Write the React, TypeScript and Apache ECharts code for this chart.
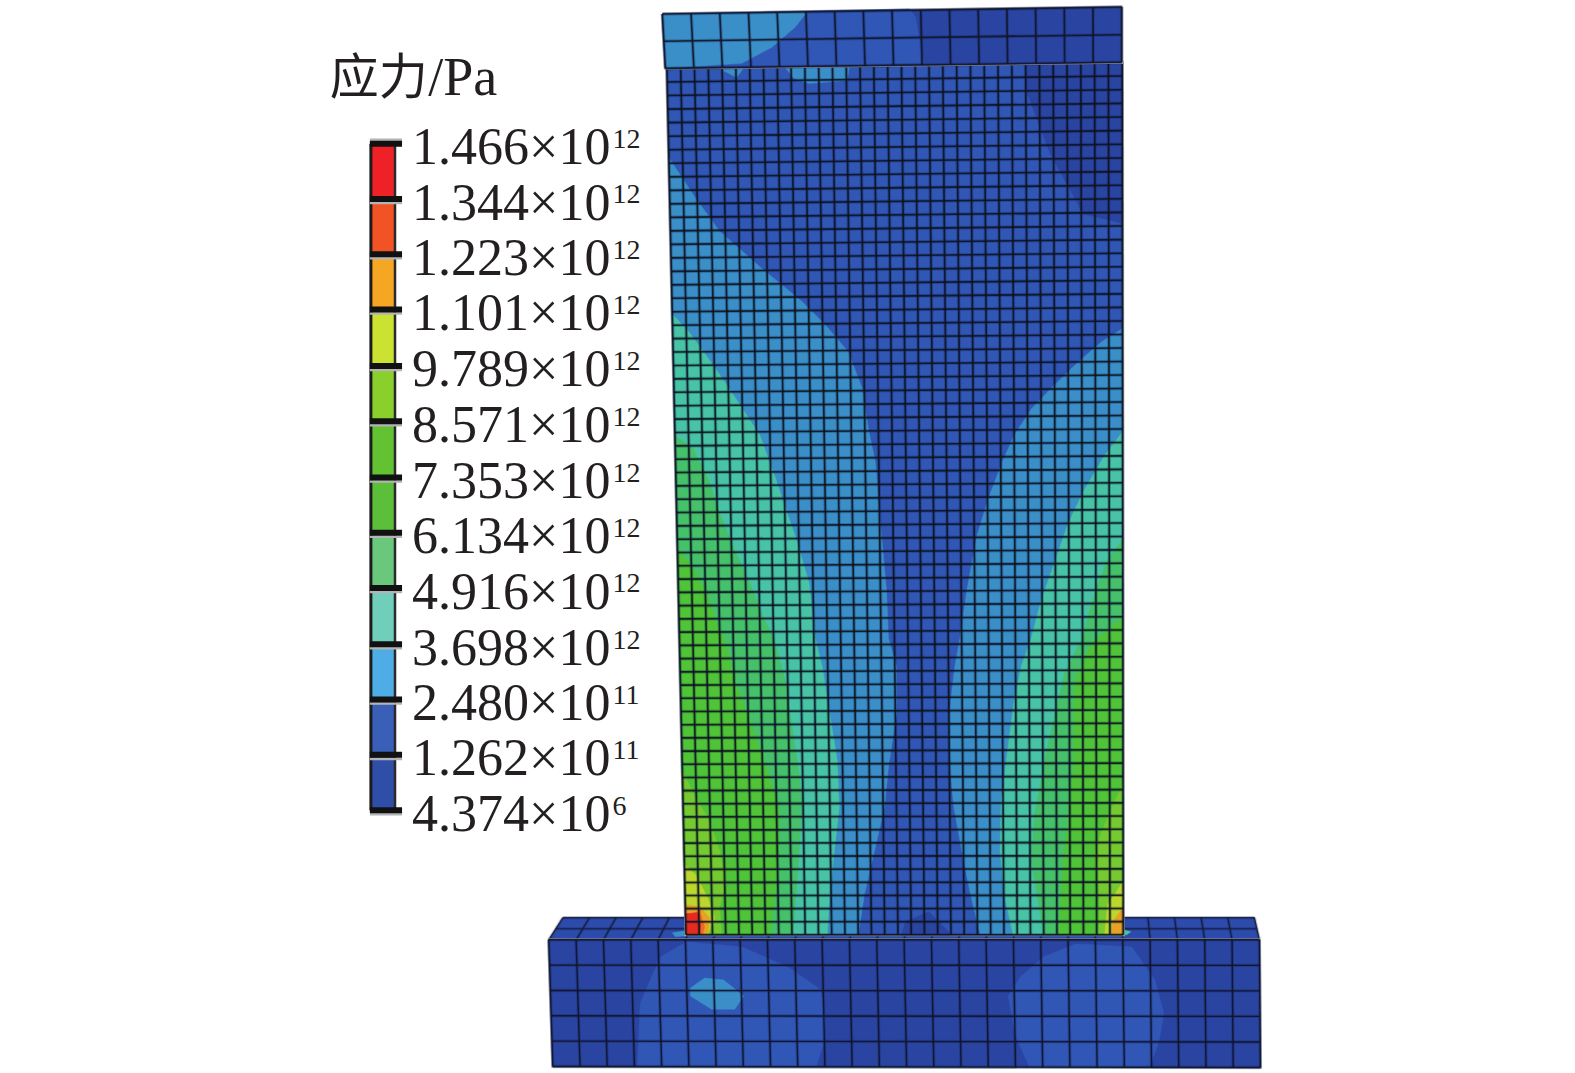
import React, { useEffect, useRef } from "react";
import * as echarts from "echarts";

// ---- legend ----
const legendMantissa = ["1.466×10","1.344×10","1.223×10","1.101×10","9.789×10","8.571×10","7.353×10","6.134×10","4.916×10","3.698×10","2.480×10","1.262×10","4.374×10"];
const legendExponent = ["12","12","12","12","12","12","12","12","12","12","11","11","6"];
const legendTicks = [143,198,253,308,364,419,475,530,585,641,696,751,806];
const legendColors = ["#ee2226","#f15324","#f5a623","#cbe233","#89d02c","#62c232","#5cbf3a","#6ac87c","#6fcfbb","#4dade4","#3a5fb8","#2f4ea8"];
const titleCjk = "应力";
const titleUnit = "/Pa";

// ---- contour colours in the model ----
const DARK = "#2a44a2", MID = "#3056b6", BLUE = "#3b8fc8", TEAL = "#47c4a6", GTEAL = "#45c169", GREEN = "#4fc437", LIME = "#74ca2e", YELLOW = "#bcd62b", ORANGE = "#e9a024", ORED = "#ee6a20", RED = "#e62a20";

type P = number[];
// top block
const blockCorners: P[] = [[659,14],[1116,7],[662,68],[1116,62]];
const blockMid: P[] = [[659,14],[905,9],[911,17],[919,63],[662,68]];
const blockBlue: P[] = [[659,14],[803,12],[791,27],[768,47],[738,63],[662,68]];
// wall
const wallCorners: P[] = [[663.5,68],[1116.5,62],[682.5,930],[1117.5,930]];
const wallDarkTop: P[] = [[1020,64],[1116.5,62],[1116.5,222],[1078,213],[1045,153],[1020,87]];
const wallDarkBottom: P[] = [[897,930],[901,917],[924,907],[940,923],[947,930]];
const wallBlueTopA: P[] = [[715,68],[733,77],[741,66]];
const wallBlueTopB: P[] = [[781,67],[845,66],[843,80],[805,83],[790,78]];
const blueLeft: P[] = [[665.5,157],[692,197],[716,230],[758,267],[798,300],[821,323],[844,350],[858,387],[864,427],[871,460],[875,510],[882,587],[884,635],[892,663],[892,710],[884,763],[880,803],[870,847],[860,890],[854,930],[682.5,930]];
const blueRight: P[] = [[1116.5,327],[1096,340],[1073,360],[1049,383],[1026,407],[1009,433],[997,460],[983,497],[972,533],[962,587],[955,635],[950,663],[944,713],[945,763],[949,803],[957,847],[965,887],[975,930],[1117.5,930]];
const tealLeft: P[] = [[669,313],[683,327],[700,350],[719,377],[739,407],[756,433],[772,477],[782,507],[791,533],[805,580],[811,635],[818,663],[825,707],[833,757],[835,803],[830,847],[825,897],[823,930],[682.5,930]];
const tealRight: P[] = [[1116.5,430],[1099,453],[1079,487],[1063,520],[1049,560],[1036,597],[1026,635],[1016,663],[1009,697],[1003,743],[996,797],[995,847],[999,890],[1008,930],[1117.5,930]];
const gtealLeft: P[] = [[671.6,433],[690,447],[706,480],[716,510],[729,543],[746,580],[759,613],[770,635],[782,680],[789,730],[795,770],[798,797],[795,847],[792,890],[789,930],[682.5,930]];
const gtealRight: P[] = [[1116.8,537],[1102,557],[1089,590],[1076,637],[1059,670],[1049,713],[1038,763],[1029,813],[1026,857],[1033,897],[1038,930],[1117.5,930]];
const greenLeft: P[] = [[674,547],[686,560],[703,590],[713,620],[722,640],[732,680],[746,717],[762,763],[775,803],[775,847],[772,883],[766,930],[682.5,930]];
const greenRight: P[] = [[1117,615],[1086,640],[1069,680],[1068,763],[1059,847],[1053,930],[1117.5,930]];
const limeLeft: P[] = [[678.8,767],[692,793],[706,817],[716,847],[722,877],[716,903],[718,930],[682.5,930]];
const limeRight: P[] = [[1117.2,780],[1102,813],[1089,847],[1094,890],[1093,930],[1117.5,930]];
const yellowLeft: P[] = [[680.8,860],[692,870],[704,893],[711,913],[704,930],[682.5,930]];
const yellowRight: P[] = [[1117.4,877],[1102,900],[1099,930],[1117.5,930]];
const orangeLeft: P[] = [[681.7,900],[696,902],[706,913],[704,930],[682.5,930]];
const orangeRight: P[] = [[1117.4,903],[1107,917],[1106,930],[1117.5,930]];
const oredLeft: P[] = [[682,912],[696,906],[701,922],[699,930],[682.5,930]];
const redLeft: P[] = [[682,909],[694,908],[697,920],[696,930],[682.5,930]];
// base
const baseTopCorners: P[] = [[560,913],[1248,913],[546,935],[1253,935]];
const baseFrontCorners: P[] = [[546,935],[1253,935],[550,1061],[1254,1062]];
const baseMidLeft: P[] = [[634,1061],[637,998],[657,952],[683,937],[738,942],[784,962],[817,985],[821,1014],[819,1040],[812,1061]];
const baseMidRight: P[] = [[1024,1061],[1010,1030],[1003,991],[1015,972],[1038,952],[1070,939],[1126,942],[1149,975],[1158,1008],[1153,1037],[1144,1061]];
const baseBlob: P[] = [[687,983],[701,973],[720,975],[740,991],[731,1004],[708,1004],[687,991]];
const baseTopPatchL: P[] = [[669,928],[682,926],[682,931],[672,932]];
const baseTopPatchR: P[] = [[1118,925],[1125,927],[1121,930],[1118,930]];

const quad = (c: P[]) => [c[0], c[1], c[3], c[2]];

type Shape = { kind: "poly"; pts: P[]; fill: string } | { kind: "line"; pts: P[]; stroke: string; w: number } | { kind: "text"; at: P; text: string; size: number };
const shapes: Shape[] = [];
const poly = (pts: P[], fill: string) => shapes.push({ kind: "poly", pts, fill });
const line = (pts: P[], stroke: string, w: number) => shapes.push({ kind: "line", pts, stroke, w });

const mix = (a: P, b: P, t: number): P => [a[0] + (b[0] - a[0]) * t, a[1] + (b[1] - a[1]) * t];
function mesh(c: P[], cols: number, rows: number, stroke: string, w: number, warp = 0) {
  const f = (t: number) => (1 + warp) * t - warp * t * t;
  const both = (pts: P[]) => { line(pts, "rgba(20,30,50,0.28)", w + 2); line(pts, stroke, w); };
  for (let j = 0; j <= cols; j++) { const t = j / cols; both([mix(c[0], c[1], t), mix(c[2], c[3], t)]); }
  for (let i = 0; i <= rows; i++) { const t = f(i / rows); both([mix(c[0], c[2], t), mix(c[1], c[3], t)]); }
}
const halo = (c: P[], w = 3) => line([...quad(c), c[0]], "#a9adb4", w);

// base top face
poly(quad(baseTopCorners), "#2c4bac");
poly(baseTopPatchL, BLUE);
poly(baseTopPatchR, TEAL);
mesh(baseTopCorners, 26, 2, "rgba(18,26,60,0.85)", 1.2);
// base front face
halo(baseFrontCorners);
poly(quad(baseFrontCorners), DARK);
poly(baseMidLeft, MID);
poly(baseMidRight, MID);
poly(baseBlob, BLUE);
mesh(baseFrontCorners, 26, 5, "rgba(14,20,50,0.92)", 1.4);
// wall
halo(wallCorners);
poly(quad(wallCorners), MID);
[[wallDarkTop,DARK],[wallDarkBottom,DARK],[wallBlueTopA,BLUE],[wallBlueTopB,BLUE],[blueLeft,BLUE],[blueRight,BLUE],[tealLeft,TEAL],[tealRight,TEAL],[gtealLeft,GTEAL],[gtealRight,GTEAL],[greenLeft,GREEN],[greenRight,GREEN],[limeLeft,LIME],[limeRight,LIME],[yellowLeft,YELLOW],[yellowRight,YELLOW],[orangeLeft,ORANGE],[orangeRight,ORANGE],[oredLeft,ORED],[redLeft,RED]].forEach(([p, f]) => poly(p as P[], f as string));
mesh(wallCorners, 33, 65, "rgba(10,16,30,0.85)", 1.6, 0.02);
// top block
halo(blockCorners);
poly(quad(blockCorners), DARK);
poly(blockMid, MID);
poly(blockBlue, BLUE);
mesh(blockCorners, 16, 2, "rgba(14,20,44,0.88)", 1.6);

// legend
const BAR_L = 370, BAR_R = 392, TICK_R = 400;
legendColors.forEach((col, i) => poly([[BAR_L, legendTicks[i]], [BAR_R, legendTicks[i]], [BAR_R, legendTicks[i + 1]], [BAR_L, legendTicks[i + 1]]], col));
line([[BAR_L - 1, legendTicks[0]], [BAR_L - 1, legendTicks[12]]], "#1c1c1e", 3);
line([[BAR_R + 1, legendTicks[0]], [BAR_R + 1, legendTicks[12]]], "#2a2a2c", 2.5);
legendTicks.forEach((y, i) => {
  const off = i === 0 ? -4 : 4;
  line([[368, y + off], [TICK_R, y + off]], "#b4b4b4", 2.5);
  line([[368, y], [TICK_R, y]], "#111", 6);
});
legendMantissa.forEach((m, i) => {
  shapes.push({ kind: "text", at: [410, legendTicks[i] + 3], text: m, size: 52 });
  shapes.push({ kind: "text", at: [609.5, legendTicks[i] - 5], text: legendExponent[i], size: 28 });
});
shapes.push({ kind: "text", at: [328, 77], text: titleCjk, size: 49 });
shapes.push({ kind: "text", at: [426, 77], text: titleUnit, size: 54 });

const shapeIndex = shapes.map((_, i) => i);
const FONT = "'Liberation Serif','Noto Sans CJK SC',serif";

function renderItem(params: any, api: any) {
  const s = shapes[api.value(0)];
  if (s.kind === "poly") {
    return { type: "polygon", shape: { points: s.pts.map((p) => api.coord(p)) }, style: { fill: s.fill, stroke: s.fill, lineWidth: 0.5 }, silent: true };
  }
  if (s.kind === "line") {
    return { type: "polyline", shape: { points: s.pts.map((p) => api.coord(p)) }, style: { fill: "none", stroke: s.stroke, lineWidth: s.w }, silent: true };
  }
  const [x, y] = api.coord(s.at);
  return { type: "text", style: { x, y, text: s.text, fontSize: s.size, fontFamily: FONT, fill: "#231f20", textAlign: "left", textVerticalAlign: "middle" }, silent: true };
}

export default function App() {
  const ref = useRef<HTMLDivElement>(null);
  useEffect(() => {
    document.body.style.margin = "0";
    document.body.style.background = "#fff";
    const chart = echarts.init(ref.current!, undefined, { renderer: "svg" });
    chart.setOption({
      animation: false,
      backgroundColor: "#fff",
      grid: { left: 0, right: 0, top: 0, bottom: 0 },
      xAxis: { type: "value", min: 0, max: 1567, show: false },
      yAxis: { type: "value", min: 0, max: 1067.5, inverse: true, show: false },
      tooltip: { show: false },
      series: [{ type: "custom", coordinateSystem: "cartesian2d", clip: false, silent: true, renderItem, encode: { x: 0, y: 0 }, data: shapeIndex.map((i) => [i]) }],
    });
    return () => chart.dispose();
  }, []);
  return <div ref={ref} style={{ position: "absolute", left: 0, top: 0, width: 1575, height: 1073 }} />;
}
